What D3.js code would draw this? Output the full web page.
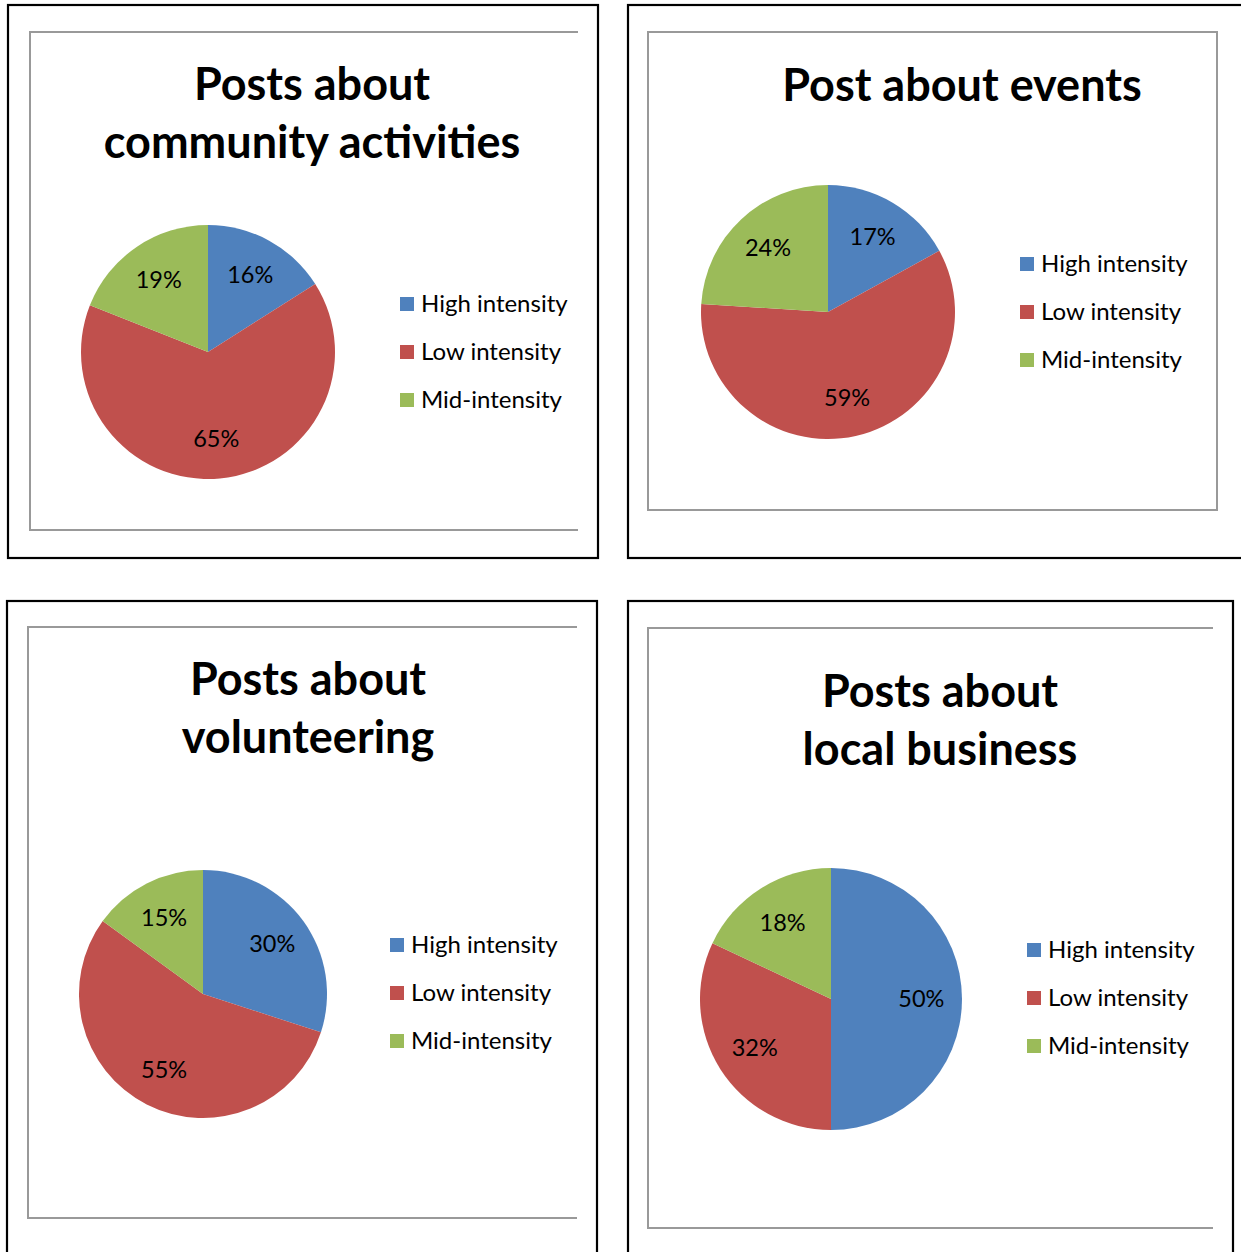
<!DOCTYPE html>
<html>
<head>
<meta charset="utf-8">
<script src="https://cdn.jsdelivr.net/npm/d3@7"></script>
<style>
  html, body { margin: 0; padding: 0; background: #fff; }
  svg { display: block; }
  text { font-family: Lato, "Open Sans", sans-serif; fill: #000; }
</style>
</head>
<body>
<svg id="chart" width="1241" height="1252"></svg>
<script>
// Slice categories, in drawing order (clockwise from 12 o'clock)
const categories = ["High intensity", "Low intensity", "Mid-intensity"];
const sliceColors = ["#4F81BD", "#C0504D", "#9BBB59"];

// One title and one set of shares (percent) per chart
const titles = [
  ["Posts about", "community activities"],
  ["Post about events"],
  ["Posts about", "volunteering"],
  ["Posts about", "local business"]
];
const communityValues = [16, 65, 19];
const eventsValues = [17, 59, 24];
const volunteeringValues = [30, 55, 15];
const businessValues = [50, 32, 18];
const seriesValues = [communityValues, eventsValues, volunteeringValues, businessValues];

// Panel geometry
const panels = [
  { outer: [8, 5, 598, 558], inner: "M578,32H30V530H578", cx: 208, cy: 352, r: 127,
    titleX: 312, titleY: 100, legendX: 400, legendY: 304 },
  { outer: [628, 5, 1260, 558], inner: "M648,32H1217V510H648Z", cx: 828, cy: 312, r: 127,
    titleX: 962, titleY: 101, legendX: 1020, legendY: 264 },
  { outer: [7, 601, 597, 1270], inner: "M577,627H28V1218H577", cx: 203, cy: 994, r: 124,
    titleX: 308, titleY: 695, legendX: 390, legendY: 945 },
  { outer: [628, 601, 1233, 1270], inner: "M1213,628H648V1228H1213", cx: 831, cy: 999, r: 131,
    titleX: 940, titleY: 707, legendX: 1027, legendY: 950 }
];

const svg = d3.select("#chart");
svg.append("rect").attr("width", 1241).attr("height", 1252).attr("fill", "#fff");

const color = d3.scaleOrdinal().domain(categories).range(sliceColors);
const pie = d3.pie().sort(null).value(d => d.value);

panels.forEach((p, i) => {
  const g = svg.append("g");

  // frame around the chart and the plot area border
  const [x0, y0, x1, y1] = p.outer;
  g.append("rect")
    .attr("x", x0).attr("y", y0)
    .attr("width", x1 - x0).attr("height", y1 - y0)
    .attr("fill", "none").attr("stroke", "#000").attr("stroke-width", 2.2);
  g.append("path")
    .attr("d", p.inner)
    .attr("fill", "none").attr("stroke", "#999").attr("stroke-width", 2);

  // title
  const title = g.append("text")
    .attr("text-anchor", "middle")
    .attr("font-weight", "bold")
    .attr("font-size", 45);
  titles[i].forEach((line, k) => {
    title.append("tspan")
      .attr("x", p.titleX)
      .attr("y", p.titleY + k * 58)
      .text(line);
  });

  // pie slices
  const data = categories.map((c, k) => ({ cat: c, value: seriesValues[i][k] }));
  const arcs = pie(data);
  const arc = d3.arc().innerRadius(0).outerRadius(p.r);
  const labelArc = d3.arc().innerRadius(p.r * 0.69).outerRadius(p.r * 0.69);

  const pg = g.append("g").attr("transform", `translate(${p.cx},${p.cy})`);
  pg.selectAll("path.slice")
    .data(arcs)
    .join("path")
    .attr("class", "slice")
    .attr("d", arc)
    .attr("fill", d => color(d.data.cat));

  pg.selectAll("text.val")
    .data(arcs)
    .join("text")
    .attr("class", "val")
    .attr("transform", d => `translate(${labelArc.centroid(d)})`)
    .attr("text-anchor", "middle")
    .attr("dy", "0.35em")
    .attr("font-size", 23.5)
    .text(d => d.data.value + "%");

  // legend
  const lg = g.append("g").attr("transform", `translate(${p.legendX},${p.legendY})`);
  const items = lg.selectAll("g.item")
    .data(categories)
    .join("g")
    .attr("class", "item")
    .attr("transform", (d, k) => `translate(0,${k * 48})`);
  items.append("rect")
    .attr("x", 0).attr("y", -7)
    .attr("width", 14).attr("height", 14)
    .attr("fill", d => color(d));
  items.append("text")
    .attr("x", 21)
    .attr("dy", "0.35em")
    .attr("font-size", 24)
    .text(d => d);
});
</script>
</body>
</html>
